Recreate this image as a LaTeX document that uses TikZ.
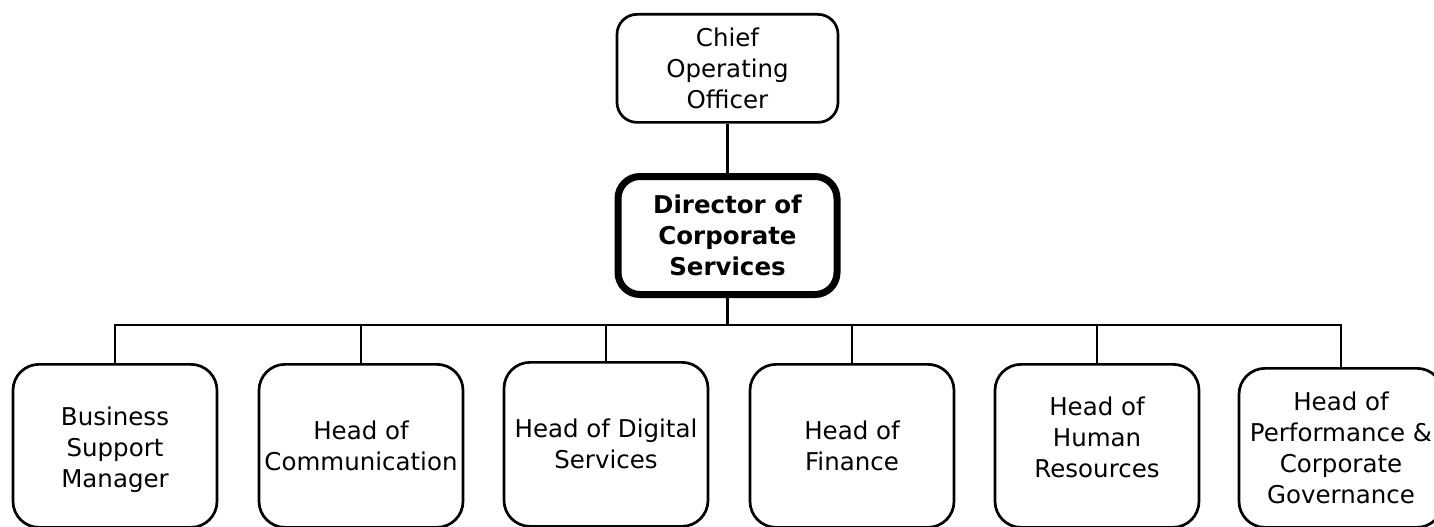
\documentclass[tikz,border=0pt]{standalone}
\usepackage{fontspec}
\setmainfont{DejaVu Sans}
\begin{document}
\begin{tikzpicture}[x=1pt,y=-1pt,
  box/.style={draw=black, line width=2.7pt, rounded corners=26pt, fill=white,
    inner sep=0pt, align=center, anchor=north, minimum width=204pt,
    font=\fontsize{24.5}{31}\selectfont},
  topbox/.style={box, rounded corners=20pt, minimum width=221pt, minimum height=108pt},
  dirbox/.style={box, line width=7pt, rounded corners=22pt, minimum width=219pt, minimum height=118pt,
    font=\fontsize{24.5}{31}\selectfont\bfseries},
  conn/.style={draw=black, line width=2.7pt}]
\useasboundingbox (0,0) rectangle (1434,527);
\fill[white] (0,0) rectangle (1434,527);
\node[topbox] (coo) at (727.5,13) {Chief\\Operating\\Officer};
\node[dirbox] (dir) at (727.5,173) {Director of\\Corporate\\Services};
\coordinate (bus) at (727.5,325);
\node[box, minimum height=163pt] (b1) at (115,363) {\mbox{}\\[-5pt]Business\\Support\\Manager};
\node[box, minimum height=163pt] (b2) at (361,363) {Head of\\Communication};
\node[box, minimum height=164pt] (b3) at (606,361) {Head of Digital\\Services};
\node[box, minimum height=163pt] (b4) at (852,363) {Head of\\Finance};
\node[box, minimum height=163pt] (b5) at (1097,363) {Head of\\Human\\Resources\\[-14pt]\mbox{}};
\node[box, minimum height=159pt] (b6) at (1341,367) {Head of\\Performance \&\\Corporate\\Governance};
\draw[conn] (coo.south) -- (dir.north);
\draw[conn] (dir.south) -- (bus);
\draw[conn] (b1.north) -- (b1.north |- bus) -- (b6.north |- bus) -- (b6.north);
\draw[conn] (b2.north) -- (b2.north |- bus);
\draw[conn] (b3.north) -- (b3.north |- bus);
\draw[conn] (b4.north) -- (b4.north |- bus);
\draw[conn] (b5.north) -- (b5.north |- bus);
\end{tikzpicture}
\end{document}
